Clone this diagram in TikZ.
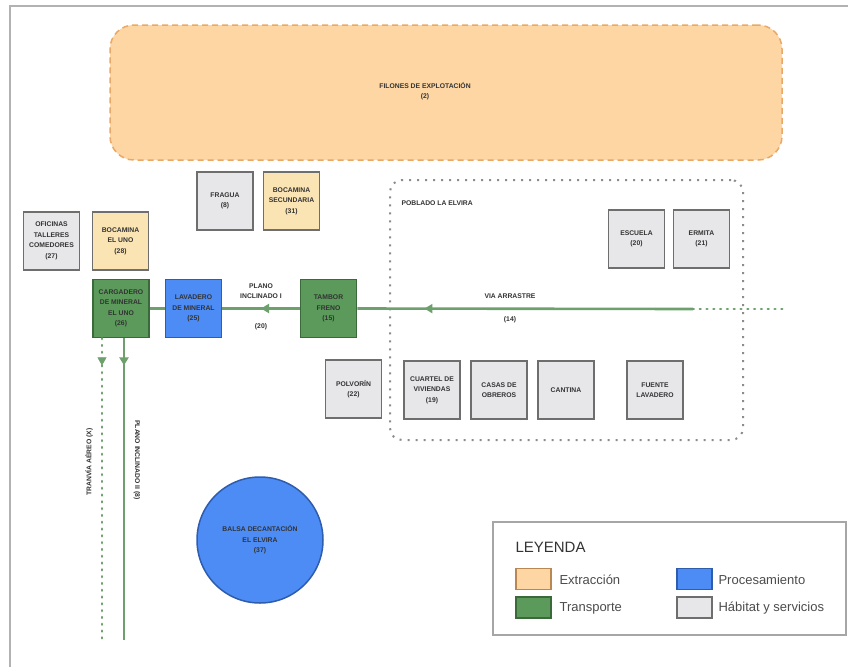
\documentclass[tikz,border=0pt]{standalone}
\usepackage{fontspec}
\setmainfont{Liberation Sans}
\setsansfont{Liberation Sans}
\usetikzlibrary{arrows.meta,decorations.markings}
\definecolor{orgfill}{HTML}{FDD6A4}
\definecolor{orgline}{HTML}{E9A866}
\definecolor{yelfill}{HTML}{FAE4B3}
\definecolor{grnfill}{HTML}{5B9A5B}
\definecolor{grnline}{HTML}{3A6A3A}
\definecolor{bluefill}{HTML}{4D8CF5}
\definecolor{blueline}{HTML}{2F5DAE}
\definecolor{gryfill}{HTML}{E7E7EA}
\definecolor{gryline}{HTML}{6E6E6E}
\definecolor{conncol}{HTML}{6EA06E}
\definecolor{txtcol}{HTML}{333333}
\tikzset{
  box/.style={draw=gryline, line width=1.5pt, minimum width=56pt, minimum height=58pt,
    align=center, inner sep=1pt, text=txtcol,
    font=\bfseries\fontsize{6.8}{10.5}\selectfont},
  habbox/.style={box, fill=gryfill},
  extbox/.style={box, fill=yelfill},
  trabox/.style={box, fill=grnfill, draw=grnline},
  probox/.style={box, fill=bluefill, draw=blueline},
  conn/.style={draw=conncol, line width=2.6pt},
  dotconn/.style={draw=conncol, line width=2.6pt, line cap=round, dash pattern=on 0.8pt off 6pt},
  midarrow/.style={postaction={decorate, decoration={markings,
     mark=at position #1 with {\arrow[conncol]{Triangle[width=9pt,length=8pt]}}}}},
  lbl/.style={text=txtcol, align=center, font=\bfseries\fontsize{6.8}{10}\selectfont},
  legtxt/.style={anchor=west, text=black!70, font=\fontsize{13}{15}\selectfont},
  swatch/.style={draw, line width=1.5pt, minimum width=35pt, minimum height=21pt}
}
\begin{document}
\begin{tikzpicture}[x=1pt,y=-1pt]
\useasboundingbox (0,0) rectangle (848,667);
\fill[white] (0,0) rectangle (848,667);
\draw[black!30, line width=1.2pt] (10,667) -- (10,6) -- (848,6);

% Filones
\node[draw=orgline, fill=orgfill, line width=1.5pt, dash pattern=on 6pt off 4pt,
  rounded corners=24pt, minimum width=672pt, minimum height=135pt] (filones) at (446,92.5) {};
\node[lbl] (filtxt) at (425,91) {FILONES DE EXPLOTACIÓN\\(2)};

% Poblado
\node[draw=black!45, line width=2pt, dash pattern=on 2pt off 6pt, rounded corners=12pt,
  minimum width=353pt, minimum height=260pt] (poblado) at (566.5,310) {};
\node[lbl, anchor=west] (pobtxt) at (398,203) {POBLADO LA ELVIRA};

% Boxes
\node[habbox] (fragua) at (225,201) {FRAGUA\\(8)};
\node[extbox] (bocsec) at (291.5,201) {BOCAMINA\\SECUNDARIA\\(31)};
\node[habbox] (oficinas) at (51.5,241) {OFICINAS\\TALLERES\\COMEDORES\\(27)};
\node[extbox] (bocuno) at (120.5,241) {BOCAMINA\\EL UNO\\(28)};
\node[trabox] (cargadero) at (121,308.5) {CARGADERO\\DE MINERAL\\EL UNO\\(26)};
\node[probox] (lavadero) at (193.5,308.5) {LAVADERO\\DE MINERAL\\(25)};
\node[trabox] (tambor) at (328.5,308.5) {TAMBOR\\FRENO\\(15)};
\node[habbox] (escuela) at (636.5,239) {ESCUELA\\(20)};
\node[habbox] (ermita) at (701.5,239) {ERMITA\\(21)};
\node[habbox] (polvorin) at (353.5,389) {POLVORÍN\\(22)};
\node[habbox] (cuartel) at (432,390) {CUARTEL DE\\VIVIENDAS\\(19)};
\node[habbox] (casas) at (499,390) {CASAS DE\\OBREROS};
\node[habbox] (cantina) at (566,390) {CANTINA};
\node[habbox] (fuente) at (655,390) {FUENTE\\LAVADERO};

% Balsa
\node[circle, draw=blueline, fill=bluefill, line width=1.5pt, minimum size=126pt,
  align=center, text=txtcol, font=\bfseries\fontsize{6.8}{10.5}\selectfont] (balsa) at (260,540)
  {BALSA DECANTACIÓN\\EL ELVIRA\\(37)};

% Connectors
\coordinate (vaend) at (693,309);
\coordinate (vadot) at (786,309);
\coordinate (pl2end) at (124,640);
\coordinate (trend) at (102,640);
\draw[conn] (cargadero.east) -- (lavadero.west);
\draw[conn, midarrow=0.5] (tambor.west) -- (lavadero.east);
\draw[conn, midarrow=0.8] (vaend) -- (tambor.east);
\draw[dotconn] (vaend) -- (vadot);
\draw[conn, midarrow=0.09] (cargadero.south -| pl2end) -- (pl2end);
\draw[dotconn] (cargadero.south -| trend) -- (trend);
\path[midarrow=0.09] (cargadero.south -| trend) -- (trend);

% Connector labels
\node[lbl] (pl1a) at (261,291) {PLANO\\INCLINADO I};
\node[lbl] (pl1b) at (261,327) {(20)};
\node[lbl] (vaa) at (510,296) {VIA ARRASTRE};
\node[lbl] (vab) at (510,320) {(14)};
\node[lbl, rotate=90] (tra) at (89,462) {TRANVÍA AÉREO (X)};
\node[lbl, rotate=-90] (pl2) at (137,460) {PLANO INCLINADO II (8)};

% Legend
\node[draw=black!35, line width=2pt, minimum width=353pt, minimum height=113pt] (legend) at (669.5,578.5) {};
\node[anchor=west, text=black!80, font=\fontsize{15}{17}\selectfont] (legtitle) at (512,547) {LEYENDA};
\node[swatch, fill=orgfill, draw=orgline!80!black] (swext) at (533.5,579) {};
\node[legtxt] (txext) at (556,580) {Extracción};
\node[swatch, fill=grnfill, draw=grnline] (swtra) at (533.5,607.5) {};
\node[legtxt] (txtra) at (556,608) {Transporte};
\node[swatch, fill=bluefill, draw=blueline] (swpro) at (694.5,579) {};
\node[legtxt] (txpro) at (715,580) {Procesamiento};
\node[swatch, fill=gryfill, draw=gryline] (swhab) at (694.5,607.5) {};
\node[legtxt] (txhab) at (715,608) {Hábitat y servicios};
\end{tikzpicture}
\end{document}
